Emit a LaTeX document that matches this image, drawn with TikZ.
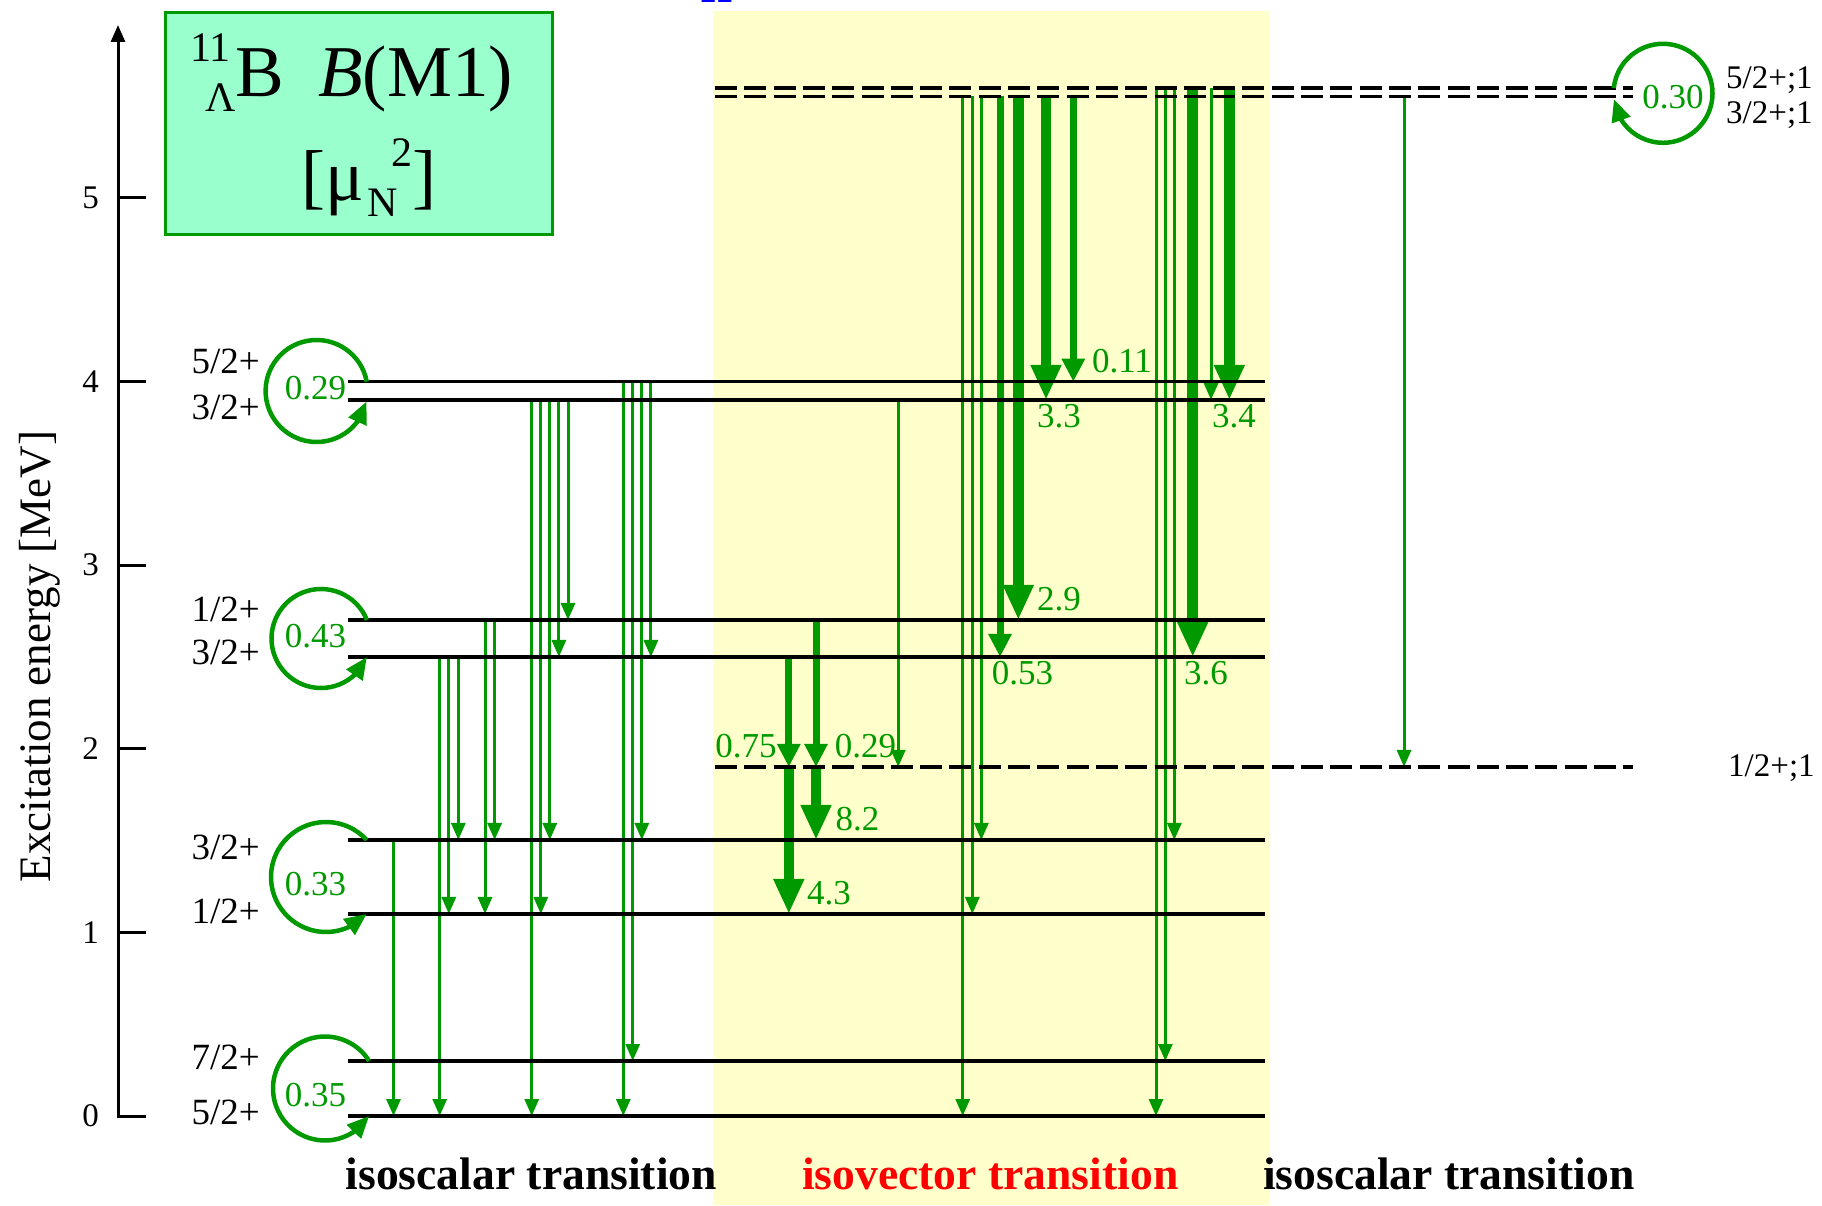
\documentclass[tikz,border=0pt]{standalone}
\usepackage{fontspec}
\setmainfont{Liberation Serif}
\usetikzlibrary{arrows.meta,bending}
\definecolor{gr}{RGB}{0,153,0}
\definecolor{boxfill}{RGB}{153,255,204}
\definecolor{yel}{RGB}{255,255,204}
\newcommand\fs[1]{\fontsize{#1bp}{#1bp}\selectfont}
\newcommand\gtr[4]{\draw[#1] ([xshift=#2bp]#3) -- ([xshift=#2bp]#4);}
\begin{document}
\begin{tikzpicture}[x=1bp,y=1bp,
  lev/.style={line width=3.3bp,black},
  dlev/.style={line width=3.8bp,black,dash pattern=on 22bp off 7.3bp},
  thinarr/.style={draw=gr,line width=3bp,-{Triangle[width=14bp,length=17bp]}},
  medarr/.style={draw=gr,line width=7bp,-{Triangle[width=22bp,length=23bp]}},
  thickarr/.style={draw=gr,line width=10.5bp,-{Triangle[width=28.5bp,length=35bp]}},
  looparr/.style={draw=gr,line width=4.5bp,-{Triangle[width=19bp,length=22bp]}},
  val/.style={text=gr,font=\fs{35},inner sep=0pt},
  jp/.style={font=\fs{37},inner sep=0pt,anchor=base east},
  jpr/.style={font=\fs{33},inner sep=0pt,anchor=base west},
  tick/.style={font=\fs{33},inner sep=0pt,anchor=east},
  bottom/.style={font=\fs{45.6}\bfseries,inner sep=0pt,anchor=base west},
  ttl/.style={inner sep=0pt,anchor=base west}
]
\useasboundingbox (0,0) rectangle (1822,1205);

% background of isovector region
\node[fill=yel,inner sep=0pt,minimum width=556.9bp,minimum height=1193.3bp,anchor=south west] (isovbg) at (712.6,0) {};

% cut-off blue text at the top
\node[text=blue,font=\fs{58}\bfseries,inner sep=0pt,anchor=base west] (cut) at (700,1202.5) {n};

% level coordinates (x = 0)
\coordinate (L0) at (0,89);
\coordinate (L1) at (0,144);
\coordinate (L2) at (0,291);
\coordinate (L3) at (0,365);
\coordinate (L4) at (0,548);
\coordinate (L5) at (0,585);
\coordinate (L6) at (0,805);
\coordinate (L7) at (0,823.3);
\coordinate (D1) at (0,438);
\coordinate (D3) at (0,1108.5);
\coordinate (D5) at (0,1116.8);

% axis
\coordinate (axbot) at (118,89);
\coordinate (axtop) at (118,1180);
\coordinate (t0e) at (146,89);
\draw[line width=3bp,line join=miter,-{Triangle[width=14bp,length=17bp]}] (t0e) -- (axbot) -- (axtop);
\foreach \v/\yy in {1/272.6,2/456.2,3/639.8,4/823.4,5/1007}{
  \draw[line width=3bp] (118,\yy) -- (146,\yy);
}
\foreach \v/\yy in {0/89,1/272.6,2/456.2,3/639.8,4/823.4,5/1007}{
  \node[tick] (tk\v) at (99,\yy) {\v};
}
\node[font=\fs{45},inner sep=0pt,anchor=base,rotate=90] (axlab) at (50,548.4) {Excitation energy [MeV]};

% title box
\node[draw=gr,line width=3bp,fill=boxfill,inner sep=0pt,minimum width=387bp,minimum height=222bp,anchor=south west] (titlebox) at (164,969) {};
\node[ttl,font=\fs{42}] (t11) at (190,1143.3) {11};
\node[ttl,font=\fs{42}] (tlam) at (205,1093.3) {Λ};
\node[ttl,font=\fs{73}] (tB) at (235,1108.3) {B};
\node[ttl,font=\fs{73}] (tBM) at (318,1108.3) {\textit{B}(M1)};
\node[ttl,font=\fs{72}] (tmu) at (301,1004) {[μ};
\node[ttl,font=\fs{42}] (tN) at (367,988.3) {N};
\node[ttl,font=\fs{42}] (t2) at (391,1038.3) {2};
\node[ttl,font=\fs{72}] (tbr) at (412,1004) {]};

% ---------- transitions ----------
% isoscalar (left)
\gtr{thinarr}{393.5}{L3}{L0}
\gtr{thinarr}{439.7}{L4}{L0}
\gtr{thinarr}{448.8}{L4}{L2}
\gtr{thinarr}{458.3}{L4}{L3}
\gtr{thinarr}{485}{L5}{L2}
\gtr{thinarr}{494.6}{L5}{L3}
\gtr{thinarr}{531.7}{L6}{L0}
\gtr{thinarr}{540.8}{L6}{L2}
\gtr{thinarr}{549.8}{L6}{L3}
\gtr{thinarr}{558.9}{L6}{L4}
\gtr{thinarr}{568}{L6}{L5}
\gtr{thinarr}{623.3}{L7}{L0}
\gtr{thinarr}{632.7}{L7}{L1}
\gtr{thinarr}{641.8}{L7}{L3}
\gtr{thinarr}{650.9}{L7}{L4}
% isovector
\gtr{medarr}{788.8}{L4}{D1}
\gtr{medarr}{816}{L5}{D1}
\gtr{thinarr}{898.2}{L6}{D1}
\gtr{thickarr}{788.8}{D1}{L2}
\gtr{thickarr}{816}{D1}{L3}
\gtr{thinarr}{962.7}{D3}{L0}
\gtr{thinarr}{972.3}{D3}{L2}
\gtr{thinarr}{981.3}{D3}{L3}
\gtr{medarr}{1000}{D3}{L4}
\gtr{thickarr}{1018.3}{D3}{L5}
\gtr{thickarr}{1046}{D3}{L6}
\gtr{medarr}{1073.3}{D3}{L7}
\gtr{thinarr}{1156}{D5}{L0}
\gtr{thinarr}{1165.3}{D5}{L1}
\gtr{thinarr}{1174.3}{D5}{L3}
\gtr{thickarr}{1192.7}{D5}{L4}
\gtr{thinarr}{1211}{D5}{L6}
\gtr{thickarr}{1229.3}{D5}{L6}
% isoscalar (right)
\gtr{thinarr}{1404}{D3}{D1}

% ---------- levels ----------
\foreach \L in {L0,L1,L2,L3,L4,L5,L6,L7}{
  \draw[lev] ([xshift=348bp]\L) -- ([xshift=1265bp]\L);
}
\foreach \L in {D1,D3,D5}{
  \draw[dlev] ([xshift=715bp]\L) -- ([xshift=1633bp]\L);
}

% ---------- self transitions ----------
\coordinate (cA) at (316.6,814);
\coordinate (cB) at (321,566.5);
\coordinate (cC) at (326,328);
\coordinate (cD) at (325,116.5);
\coordinate (cE) at (1663,1111.7);
\draw[looparr] ([shift={(10.5:51bp)}]cA) arc[start angle=10.5,end angle=348,radius=51bp];
\draw[looparr] ([shift={(22:49.5bp)}]cB) arc[start angle=22,end angle=338,radius=49.5bp];
\draw[looparr] ([shift={(42.3:55bp)}]cC) arc[start angle=42.3,end angle=317.7,radius=55bp];
\draw[looparr] ([shift={(31.9:52bp)}]cD) arc[start angle=31.9,end angle=328.1,radius=52bp];
\draw[looparr] ([shift={(174:49.5bp)}]cE) arc[start angle=174,end angle=-173,radius=49.5bp];

% ---------- values ----------
\node[val] (vA) at (315.4,816.7) {0.29};
\node[val] (vB) at (315.4,569) {0.43};
\node[val] (vC) at (315.4,320.7) {0.33};
\node[val] (vD) at (315.4,110) {0.35};
\node[val] (vE) at (1673,1108.3) {0.30};
\node[val] (v33) at (1059,789.2) {3.3};
\node[val] (v011) at (1122,844.2) {0.11};
\node[val] (v34) at (1234,789.2) {3.4};
\node[val] (v29) at (1059,606.3) {2.9};
\node[val] (v053) at (1022.5,531.7) {0.53};
\node[val] (v36) at (1206,531.7) {3.6};
\node[val] (v075) at (746,459.2) {0.75};
\node[val] (v029) at (865.6,459.2) {0.29};
\node[val] (v82) at (857.5,385.7) {8.2};
\node[val] (v43) at (829,311.7) {4.3};

% ---------- level labels ----------
\node[jp] (j7) at (260,831.7) {5/2+};
\node[jp] (j6) at (260,785.7) {3/2+};
\node[jp] (j5) at (260,583.3) {1/2+};
\node[jp] (j4) at (260,540) {3/2+};
\node[jp] (j3) at (260,345.7) {3/2+};
\node[jp] (j2) at (260,281.7) {1/2+};
\node[jp] (j1) at (260,135.7) {7/2+};
\node[jp] (j0) at (260,81) {5/2+};
\node[jpr] (jd5) at (1726,1116.7) {5/2+;1};
\node[jpr] (jd3) at (1726,1081.7) {3/2+;1};
\node[jpr] (jd1) at (1728,428.3) {1/2+;1};

% ---------- bottom labels ----------
\node[bottom] (isl) at (345.5,15.7) {isoscalar transition};
\node[bottom,text=red] (ivl) at (802,15.7) {isovector transition};
\node[bottom] (isr) at (1263,15.7) {isoscalar transition};
\end{tikzpicture}
\end{document}
